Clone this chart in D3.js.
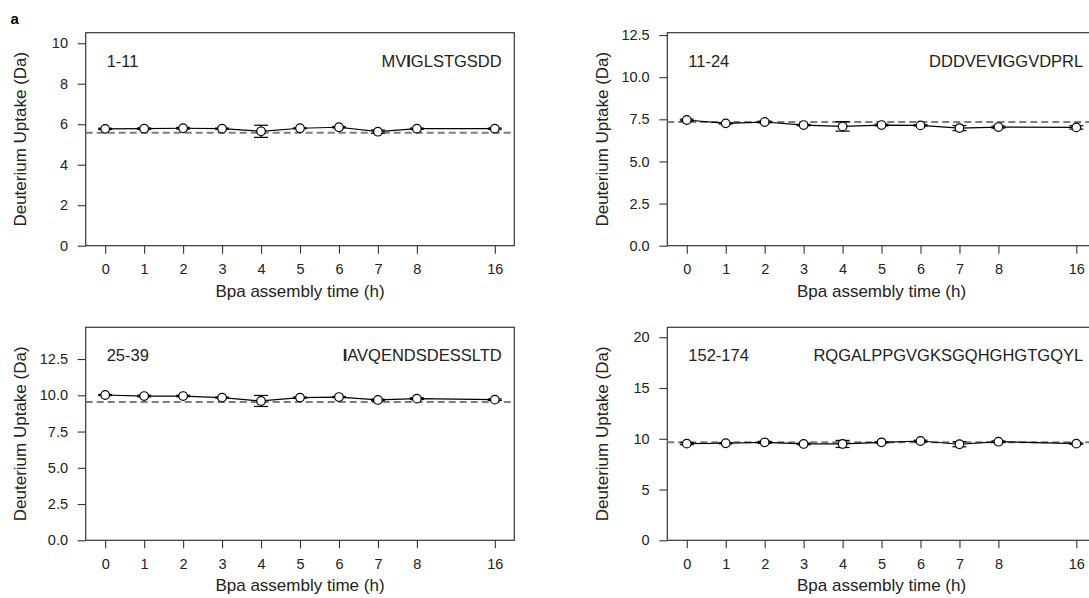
<!DOCTYPE html>
<html>
<head>
<meta charset="utf-8">
<script src="https://cdn.jsdelivr.net/npm/d3@7"></script>
<style>
  html, body { margin: 0; padding: 0; background: #fff; }
  svg { display: block; }
  text { font-family: "Liberation Sans", Arial, Helvetica, sans-serif; fill: #222; }
</style>
</head>
<body>
<svg id="fig" width="1089" height="598"></svg>
<script>
// Sampling times (h) of the Bpa assembly series
const hourLabels = ["0", "1", "2", "3", "4", "5", "6", "7", "8", "16"];
// x slots: one empty slot separates 8 h from 16 h
const xSlots = ["0", "1", "2", "3", "4", "5", "6", "7", "8", "", "16"];

// Peptide 1-11
const uptake_1_11 = [5.77, 5.78, 5.80, 5.78, 5.65, 5.80, 5.85, 5.63, 5.78, 5.78];
const sd_1_11     = [0.03, 0.04, 0.04, 0.03, 0.30, 0.02, 0.03, 0.08, 0.03, 0.03];
const ref_1_11 = 5.58;

// Peptide 11-24
const uptake_11_24 = [7.46, 7.26, 7.34, 7.16, 7.08, 7.16, 7.14, 6.98, 7.04, 7.02];
const sd_11_24     = [0.05, 0.04, 0.05, 0.04, 0.28, 0.05, 0.04, 0.15, 0.06, 0.10];
const ref_11_24 = 7.34;

// Peptide 25-39
const uptake_25_39 = [10.02, 9.95, 9.95, 9.84, 9.61, 9.84, 9.88, 9.68, 9.77, 9.70];
const sd_25_39     = [0.04, 0.06, 0.05, 0.04, 0.38, 0.04, 0.04, 0.05, 0.06, 0.05];
const ref_25_39 = 9.54;

// Peptide 152-174
const uptake_152_174 = [9.52, 9.56, 9.65, 9.49, 9.49, 9.65, 9.78, 9.46, 9.71, 9.52];
const sd_152_174     = [0.10, 0.06, 0.10, 0.08, 0.35, 0.06, 0.08, 0.25, 0.08, 0.06];
const ref_152_174 = 9.65;

// y-axis tick values per panel
const yTicks_1_11 = [0, 2, 4, 6, 8, 10];
const yTicks_11_24 = [0, 2.5, 5, 7.5, 10, 12.5];
const yTicks_25_39 = [0, 2.5, 5, 7.5, 10, 12.5];
const yTicks_152_174 = [0, 5, 10, 15, 20];

const panels = [
  { range: "1-11", seq: "MVIGLSTGSDD", boldAt: [2], values: uptake_1_11, sd: sd_1_11, ref: ref_1_11,
    yMax: 10.52, ticks: yTicks_1_11, fmt: d3.format("d"), col: 0, row: 0 },
  { range: "11-24", seq: "DDDVEVIGGVDPRL", boldAt: [6], values: uptake_11_24, sd: sd_11_24, ref: ref_11_24,
    yMax: 12.64, ticks: yTicks_11_24, fmt: d3.format(".1f"), col: 1, row: 0 },
  { range: "25-39", seq: "IAVQENDSDESSLTD", boldAt: [0], values: uptake_25_39, sd: sd_25_39, ref: ref_25_39,
    yMax: 14.69, ticks: yTicks_25_39, fmt: d3.format(".1f"), col: 0, row: 1 },
  { range: "152-174", seq: "RQGALPPGVGKSGQHGHGTGQYL", boldAt: [], values: uptake_152_174, sd: sd_152_174, ref: ref_152_174,
    yMax: 20.98, ticks: yTicks_152_174, fmt: d3.format("d"), col: 1, row: 1 }
];

// Plot-area frames
const colX = [[85.7, 514.3], [667.3, 1095.8]];
const rowY = [[32.7, 245.7], [327.3, 540.3]];
const yTitleX = [20, 602];

const TICK_FS = "14.5px";
const LABEL_FS = "16.5px";
const TITLE_FS = "17px";

const svg = d3.select("#fig");
svg.append("rect").attr("width", 1089).attr("height", 598).attr("fill", "#fff");

svg.append("text").attr("x", 10.5).attr("y", 24)
  .style("font-size", "15px").style("font-weight", "bold").style("fill", "#000")
  .text("a");

panels.forEach(p => {
  const [x0, x1] = colX[p.col];
  const [y0, y1] = rowY[p.row];
  const g = svg.append("g");

  const x = d3.scalePoint().domain(xSlots).range([x0, x1]).padding(0.5);
  const y = d3.scaleLinear().domain([0, p.yMax]).range([y1, y0]);

  // y axis ticks and labels
  const yAxis = g.append("g").attr("transform", `translate(${x0},0)`)
    .call(d3.axisLeft(y).tickValues(p.ticks).tickFormat(p.fmt).tickSize(8).tickPadding(9.7));
  yAxis.select(".domain").remove();
  yAxis.selectAll(".tick line").attr("stroke", "#333").attr("stroke-width", 1.1);
  yAxis.selectAll(".tick text").style("font-size", TICK_FS).style("font-family", null).attr("fill", "#222");

  // x axis ticks and labels
  const xAxis = g.append("g").attr("transform", `translate(0,${y1})`)
    .call(d3.axisBottom(x).tickValues(hourLabels).tickSize(8).tickPadding(10));
  xAxis.select(".domain").remove();
  xAxis.selectAll(".tick line").attr("stroke", "#333").attr("stroke-width", 1.1);
  xAxis.selectAll(".tick text").style("font-size", TICK_FS).style("font-family", null).attr("fill", "#222");

  // frame
  g.append("rect").attr("x", x0).attr("y", y0).attr("width", x1 - x0).attr("height", y1 - y0)
    .attr("fill", "none").attr("stroke", "#333").attr("stroke-width", 1.2);

  // reference level (dashed)
  g.append("line").attr("x1", x0).attr("x2", x1).attr("y1", y(p.ref)).attr("y2", y(p.ref))
    .attr("stroke", "#7d7d7d").attr("stroke-width", 2).attr("stroke-dasharray", "7,4");

  const pts = hourLabels.map((h, i) => ({ h, v: p.values[i], e: p.sd[i] }));

  // connecting line
  g.append("path").datum(pts)
    .attr("d", d3.line().x(d => x(d.h)).y(d => y(d.v)))
    .attr("fill", "none").attr("stroke", "#000").attr("stroke-width", 1.2);

  // error bars
  const eb = g.append("g").attr("stroke", "#000").attr("stroke-width", 1.2);
  pts.forEach(d => {
    const cx = x(d.h), yt = y(d.v + d.e), yb = y(d.v - d.e);
    eb.append("line").attr("x1", cx).attr("x2", cx).attr("y1", yt).attr("y2", yb);
    eb.append("line").attr("x1", cx - 7).attr("x2", cx + 7).attr("y1", yt).attr("y2", yt);
    eb.append("line").attr("x1", cx - 7).attr("x2", cx + 7).attr("y1", yb).attr("y2", yb);
  });

  // markers
  g.selectAll("circle.pt").data(pts).join("circle").attr("class", "pt")
    .attr("cx", d => x(d.h)).attr("cy", d => y(d.v)).attr("r", 4.3)
    .attr("fill", "#fff").attr("stroke", "#000").attr("stroke-width", 1.2);

  // peptide range label
  g.append("text").attr("x", x0 + 21).attr("y", y0 + 34).style("font-size", LABEL_FS).text(p.range);

  // peptide sequence, with the highlighted residue in bold
  const seqText = g.append("text").attr("x", x1 - 12.6).attr("y", y0 + 34)
    .attr("text-anchor", "end").style("font-size", LABEL_FS);
  p.seq.split("").forEach((ch, i) => {
    seqText.append("tspan").text(ch).style("font-weight", p.boldAt.includes(i) ? "bold" : null);
  });

  // axis titles
  g.append("text").attr("x", (x0 + x1) / 2).attr("y", y1 + 51)
    .attr("text-anchor", "middle").style("font-size", TITLE_FS).text("Bpa assembly time (h)");
  g.append("text")
    .attr("transform", `translate(${yTitleX[p.col]},${(y0 + y1) / 2}) rotate(-90)`)
    .attr("text-anchor", "middle").attr("dy", "0.35em").style("font-size", TITLE_FS)
    .text("Deuterium Uptake (Da)");
});
</script>
</body>
</html>
